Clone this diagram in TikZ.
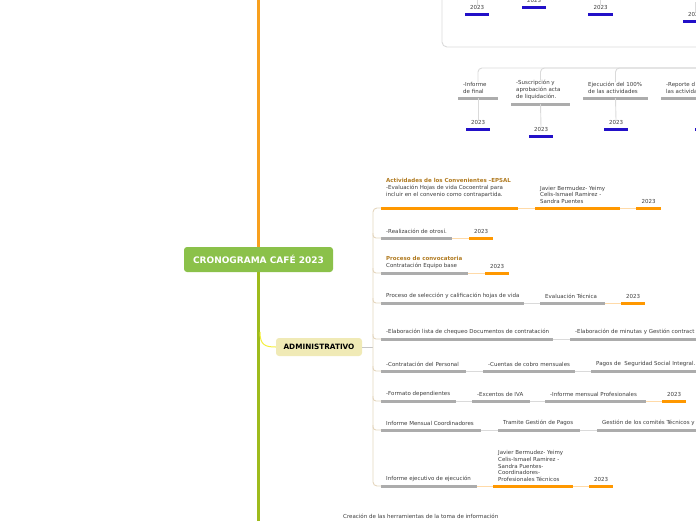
\documentclass[tikz,border=0pt]{standalone}
\usepackage{fontspec}
\setmainfont{DejaVu Sans}
\usepackage{xcolor}
\usepackage{tikz}
\usetikzlibrary{positioning}
\definecolor{mapgreen}{RGB}{139,193,74}
\definecolor{stemgreen}{RGB}{158,187,28}
\definecolor{stemorange}{RGB}{248,160,30}
\definecolor{admfill}{RGB}{240,234,182}
\definecolor{admyellow}{RGB}{244,238,60}
\definecolor{barorange}{RGB}{255,152,0}
\definecolor{bargray}{RGB}{172,172,172}
\definecolor{barblue}{RGB}{34,16,200}
\definecolor{linkgray}{RGB}{218,218,218}
\definecolor{linkorange}{RGB}{255,218,168}
\definecolor{trunktan}{RGB}{228,214,190}
\definecolor{headbrown}{RGB}{176,122,32}
\definecolor{txtgray}{RGB}{60,60,60}
\tikzset{
  barO/.style={line width=3pt,draw=barorange},
  barG/.style={line width=3pt,draw=bargray},
  barB/.style={line width=3pt,draw=barblue},
  link/.style={line width=0.9pt,draw=linkgray},
  linkO/.style={line width=0.9pt,draw=linkorange},
  trunk/.style={line width=0.9pt,draw=trunktan},
  txt/.style={font=\fontsize{5.5}{6.6}\selectfont,text=txtgray,inner sep=0pt,align=left,anchor=south west}
}
\newcommand{\hdr}[1]{{\bfseries\color{headbrown}#1}}
% underlined task: [raise] name x1 x2 y style text
\newcommand{\tsk}[7][0]{%
  \draw[#6] (#3,#5) coordinate (#2L) -- (#4,#5) coordinate (#2R);
  \coordinate (#2M) at ({(#3+#4)/2},#5);
  \node[txt] (#2) at ({#3+5},{#5-4.5-#1}) {#7};
}
% year mark: name x1 x2 y style
\newcommand{\yr}[5]{%
  \draw[#5] (#2,#4) coordinate (#1L) -- (#3,#4) coordinate (#1R);
  \node[txt,anchor=south] (#1) at ({(#2+#3)/2},{#4-4.5}) {2023};
}
\begin{document}
\begin{tikzpicture}[
  x=1pt,y=-1pt,
  root/.style={rounded corners=3pt,fill=mapgreen,text=white,font=\fontsize{9}{11}\selectfont\bfseries,minimum width=149pt,minimum height=25pt,inner sep=0pt},
  branchbox/.style={rounded corners=3pt,fill=admfill,text=black,font=\fontsize{7.3}{9}\selectfont\bfseries,minimum width=86pt,minimum height=18pt,inner sep=0pt},
  stemO/.style={line width=2.4pt,draw=stemorange},
  stemG/.style={line width=2.4pt,draw=stemgreen},
  boxline/.style={line width=0.9pt,draw=linkgray,rounded corners=5pt}
]
\useasboundingbox (0,0) rectangle (696,520);
\clip (0,0) rectangle (696,520);

% main stem
\node[root] (title) at (258.5,259.5) {CRONOGRAMA CAFÉ 2023};
\coordinate (topEnd) at (259,-5);
\coordinate (botEnd) at (259,525);
\draw[stemO] (title.north) -- (title.north |- topEnd);
\draw[stemG] (title.south) -- (title.south |- botEnd);

\node[branchbox] (admin) at (319,347) {ADMINISTRATIVO};
\coordinate (admJoin) at (260,332);
\draw[line width=1pt,draw=admyellow] (admJoin) .. controls (260,345) and (265,347) .. (admin.west);

\coordinate (trunkMid) at (373,347);
\draw[line width=0.9pt,draw=bargray!70] (admin.east) -- (trunkMid);

% top group
\draw[boxline] (442,-20) rectangle (730,47);
\yr{pA}{465}{489}{14}{barB}
\yr{pB}{522}{546}{7}{barB}
\yr{pC}{588}{613}{14}{barB}
\yr{pD}{683}{707}{21}{barB}
\foreach \p in {pA,pC,pD}{
  \draw[link] (\p.north) -- ++(0,-10);
}

\tsk{qa}{458}{498}{98}{barG}{-Informe\\de final}
\tsk{qb}{511}{570}{104}{barG}{-Suscripción y\\aprobación acta\\de liquidación.}
\tsk{qc}{583}{648}{98}{barG}{Ejecución del 100\%\\de las actividades}
\tsk{qd}{661}{740}{98}{barG}{-Reporte d\\las activida}

\coordinate (hub) at (730,68);
\foreach \q in {qa,qb,qc}{
  \draw[link,rounded corners=4pt] (\q M |- \q.north) |- (hub);
}

\yr{ka}{466}{490}{129}{barB}
\yr{kb}{529}{553}{136}{barB}
\yr{kc}{604}{628}{129}{barB}
\draw[barB] (695,129) coordinate (kdL) -- (719,129) coordinate (kdR);
\foreach \q/\k in {qa/ka,qb/kb,qc/kc}{
  \draw[link] (\q M) -- (\k.north);
}

% administrative rows
\tsk[6]{ra}{381}{518}{208}{barO}{\hdr{Actividades de los Convenientes –EPSAL}\\-Evaluación Hojas de vida Cocoentral para\\incluir en el convenio como contrapartida.}
\tsk{rb}{535}{620}{208}{barO}{Javier Bermudez- Yeimy\\Celis-Ismael Ramirez -\\Sandra Puentes}
\yr{rc}{636}{661}{208}{barO}

\tsk{sa}{381}{452}{238}{barG}{-Realización de otrosí.}
\yr{sb}{469}{493}{238}{barO}

\tsk{ta}{381}{468}{273}{barG}{\hdr{Proceso de convocatoria}\\Contratación Equipo base}
\yr{tb}{485}{509}{273}{barO}

\tsk{ua}{381}{524}{303}{barG}{Proceso de selección y calificación hojas de vida}
\tsk{ub}{540}{605}{303}{barG}{Evaluación Técnica}
\yr{uc}{621}{645}{303}{barO}

\tsk{va}{381}{553}{339}{barG}{-Elaboración lista de chequeo Documentos de contratación}
\tsk{vb}{570}{740}{339}{barG}{-Elaboración de minutas y Gestión contract}

\tsk{wa}{381}{466}{371}{barG}{-Contratación del Personal}
\tsk{wb}{483}{575}{371}{barG}{-Cuentas de cobro mensuales}
\tsk{wc}{591}{740}{371}{barG}{Pagos de~~Seguridad Social Integral.}

\tsk{xa}{381}{456}{401}{barG}{-Formato dependientes}
\tsk{xb}{472}{530}{401}{barG}{-Excentos de IVA}
\tsk{xc}{545}{646}{401}{barG}{-Informe mensual Profesionales}
\yr{xd}{662}{686}{401}{barO}

\tsk{ya}{381}{481}{430}{barG}{Informe Mensual Coordinadores}
\tsk{yb}{498}{580}{430}{barG}{Tramite Gestión de Pagos}
\tsk{yc}{597}{740}{430}{barG}{Gestión de los comités Técnicos y}

\tsk{za}{381}{477}{486}{barG}{Informe ejecutivo de ejecución}
\tsk{zb}{493}{573}{486}{barO}{Javier Bermudez- Yeimy\\Celis-Ismael Ramirez -\\Sandra Puentes-\\Coordinadores-\\Profesionales Técnicos}
\yr{zc}{589}{613}{486}{barO}

% row links
\foreach \a/\b in {ra/rb,rb/rc,sa/sb,ta/tb,ub/uc,xc/xd,za/zb,zb/zc}{
  \draw[linkO] (\a R) -- (\b L);
}
\foreach \a/\b in {ua/ub,va/vb,wa/wb,wb/wc,xa/xb,xb/xc,ya/yb,yb/yc}{
  \draw[link] (\a R) -- (\b L);
}

% trunk to rows
\draw[trunk,rounded corners=4pt] (raL) -| (trunkMid) |- (zaL);
\foreach \r in {sa,ta,ua,va,wa,xa,ya}{
  \draw[trunk,rounded corners=3pt] ([yshift=5pt]\r L -| trunkMid) |- (\r L);
}

\node[txt,anchor=west] (tool) at (343,516) {Creación de las herramientas de la toma de información};

\end{tikzpicture}
\end{document}
